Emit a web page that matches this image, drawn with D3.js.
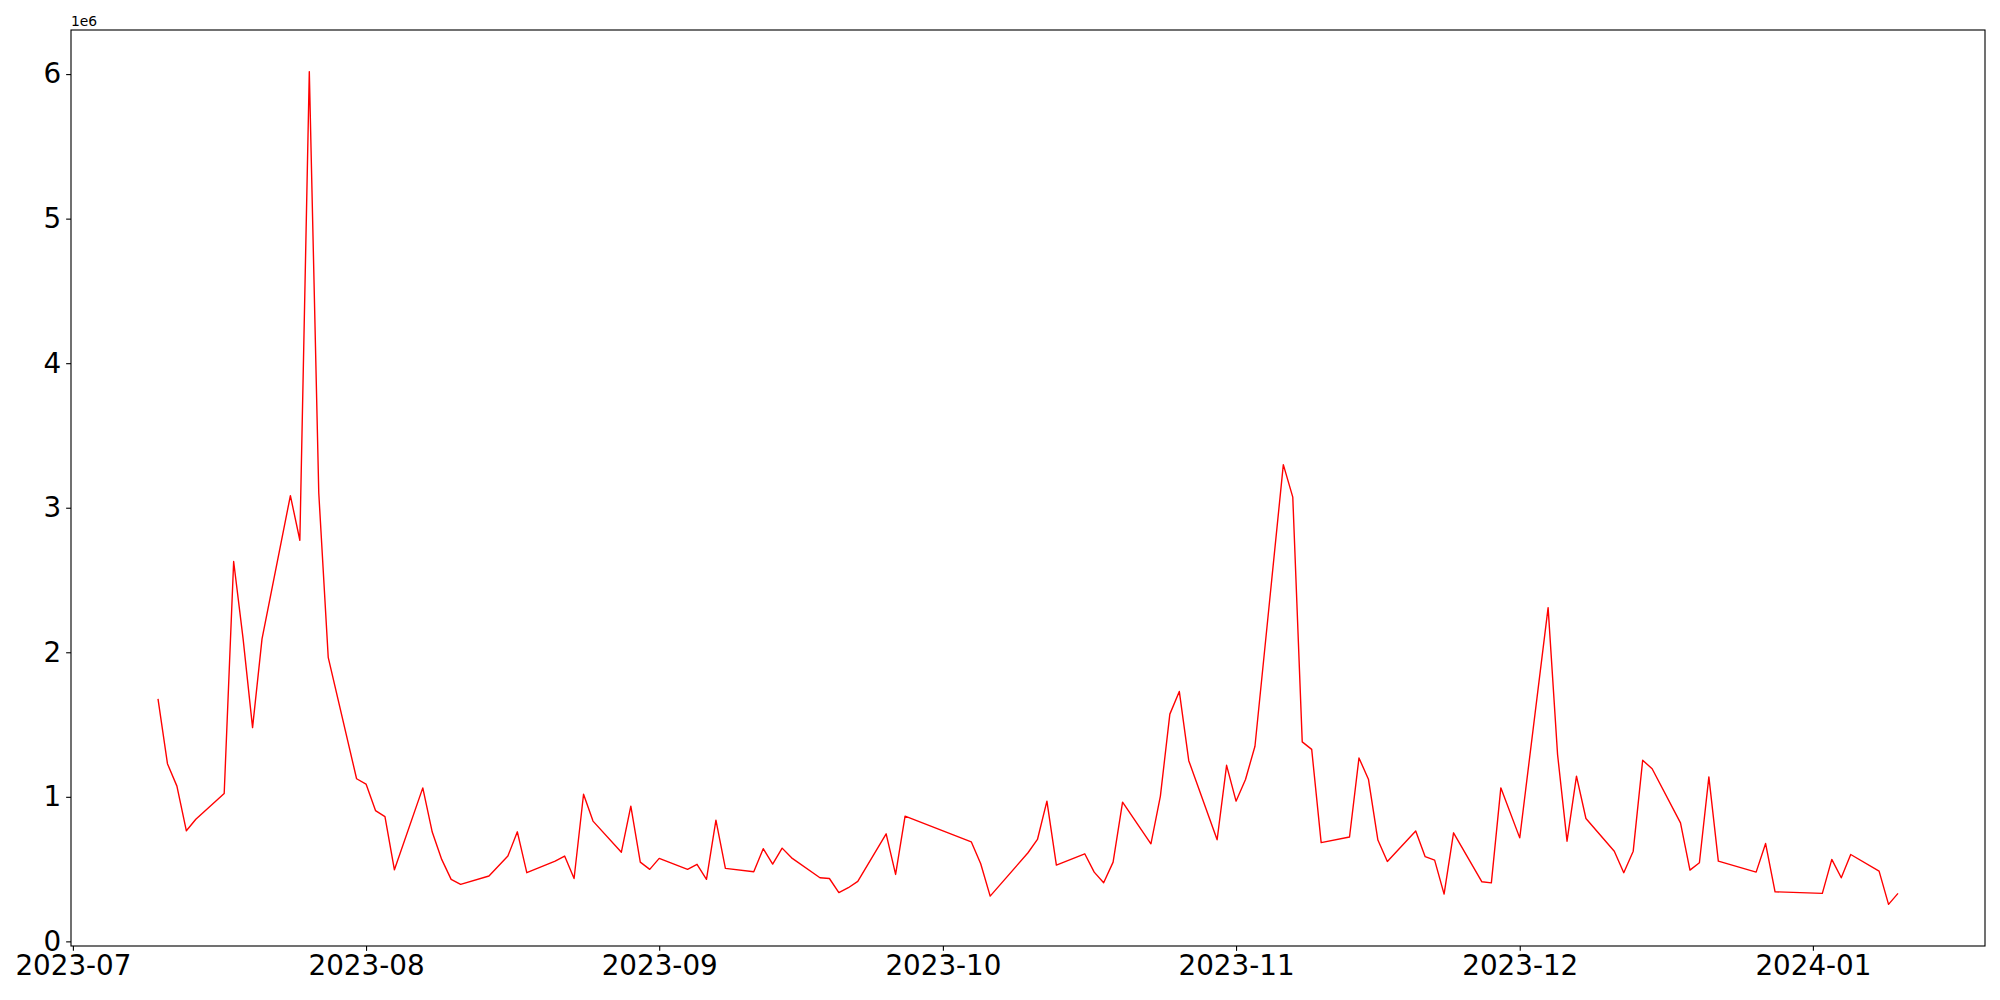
<!DOCTYPE html>
<html>
<head>
<meta charset="utf-8">
<script src="https://cdn.jsdelivr.net/npm/d3@7"></script>
<style>
  body { margin: 0; background: #fff; }
  svg { display: block; font-family: "DejaVu Sans", sans-serif; }
</style>
</head>
<body>
<svg width="2000" height="1000"></svg>
<script>
// trading days and the value for each one
var dates = [
  "2023-07-10","2023-07-11","2023-07-12","2023-07-13","2023-07-14",
  "2023-07-17","2023-07-18","2023-07-19","2023-07-20","2023-07-21",
  "2023-07-24","2023-07-25","2023-07-26","2023-07-27","2023-07-28",
  "2023-07-31","2023-08-01","2023-08-02","2023-08-03","2023-08-04",
  "2023-08-07","2023-08-08","2023-08-09","2023-08-10","2023-08-11",
  "2023-08-14","2023-08-16","2023-08-17","2023-08-18",
  "2023-08-21","2023-08-22","2023-08-23","2023-08-24","2023-08-25",
  "2023-08-28","2023-08-29","2023-08-30","2023-08-31","2023-09-01",
  "2023-09-04","2023-09-05","2023-09-06","2023-09-07","2023-09-08",
  "2023-09-11","2023-09-12","2023-09-13","2023-09-14","2023-09-15",
  "2023-09-18","2023-09-19","2023-09-20","2023-09-21","2023-09-22",
  "2023-09-25","2023-09-26","2023-09-27",
  "2023-10-04","2023-10-05","2023-10-06",
  "2023-10-10","2023-10-11","2023-10-12","2023-10-13",
  "2023-10-16","2023-10-17","2023-10-18","2023-10-19","2023-10-20",
  "2023-10-23","2023-10-24","2023-10-25","2023-10-26","2023-10-27",
  "2023-10-30","2023-10-31","2023-11-01","2023-11-02","2023-11-03",
  "2023-11-06","2023-11-07","2023-11-08","2023-11-09","2023-11-10",
  "2023-11-13","2023-11-14","2023-11-15","2023-11-16","2023-11-17",
  "2023-11-20","2023-11-21","2023-11-22","2023-11-23","2023-11-24",
  "2023-11-27","2023-11-28","2023-11-29","2023-12-01",
  "2023-12-04","2023-12-05","2023-12-06","2023-12-07","2023-12-08",
  "2023-12-11","2023-12-12","2023-12-13","2023-12-14","2023-12-15",
  "2023-12-18","2023-12-19","2023-12-20","2023-12-21","2023-12-22",
  "2023-12-26","2023-12-27","2023-12-28",
  "2024-01-02","2024-01-03","2024-01-04","2024-01-05",
  "2024-01-08","2024-01-09","2024-01-10"
];

var values = [
  1677000,1229000,1074000,765000,845000,
  1023000,2628000,2093000,1479000,2093000,
  3084000,2775000,6017000,3104000,1965000,
  1125000,1088000,905000,863000,495000,
  1062000,756000,567000,429000,394000,
  452000,590000,758000,475000,
  555000,590000,435000,1018000,832000,
  617000,935000,548000,498000,574000,
  498000,533000,429000,839000,505000,
  482000,641000,535000,645000,578000,
  440000,435000,337000,371000,415000,
  744000,463000,866000,
  689000,537000,313000,
  613000,705000,970000,528000,
  606000,479000,406000,548000,963000,
  675000,1005000,1572000,1729000,1250000,
  703000,1218000,970000,1120000,1350000,
  3298000,3073000,1380000,1328000,683000,
  722000,1269000,1122000,701000,553000,
  763000,586000,562000,327000,751000,
  412000,405000,1062000,716000,
  2309000,1293000,693000,1143000,850000,
  624000,475000,624000,1253000,1194000,
  820000,493000,544000,1138000,555000,
  479000,677000,343000,
  332000,567000,440000,601000,
  486000,256000,332000
];

var yTicks = [0, 1e6, 2e6, 3e6, 4e6, 5e6, 6e6];

var margin = {left: 71, right: 15, top: 30, bottom: 54};
var width = 2000, height = 1000;
var pt = 100 / 72;

var svg = d3.select("svg");

var parse = d3.timeParse("%Y-%m-%d");
var data = dates.map(function(d, i) { return {date: parse(d), value: values[i]}; });

// matplotlib style 5% padding on both axes
var xExt = d3.extent(data, function(d) { return d.date; });
var xPad = (xExt[1] - xExt[0]) * 0.05;
var x = d3.scaleTime()
    .domain([new Date(+xExt[0] - xPad), new Date(+xExt[1] + xPad)])
    .range([margin.left, width - margin.right]);

var yExt = d3.extent(values);
var yPad = (yExt[1] - yExt[0]) * 0.05;
var y = d3.scaleLinear()
    .domain([yExt[0] - yPad, yExt[1] + yPad])
    .range([height - margin.bottom, margin.top]);

var line = d3.line()
    .x(function(d) { return x(d.date); })
    .y(function(d) { return y(d.value); });

svg.append("path")
    .datum(data)
    .attr("fill", "none")
    .attr("stroke", "#ff0000")
    .attr("stroke-width", 1 * pt)
    .attr("stroke-linejoin", "round")
    .attr("d", line);

var xAxis = svg.append("g")
    .attr("transform", "translate(0," + (height - margin.bottom) + ")")
    .call(d3.axisBottom(x)
      .ticks(d3.timeMonth.every(1))
      .tickFormat(d3.timeFormat("%Y-%m"))
      .tickSize(3.5 * pt)
      .tickPadding(3.5 * pt));

var yAxis = svg.append("g")
    .attr("transform", "translate(" + margin.left + ",0)")
    .call(d3.axisLeft(y)
      .tickValues(yTicks)
      .tickFormat(function(d) { return d / 1e6; })
      .tickSize(3.5 * pt)
      .tickPadding(3.5 * pt));

[xAxis, yAxis].forEach(function(g) {
  g.select(".domain").remove();
  g.selectAll(".tick line").attr("stroke", "#000").attr("stroke-width", 0.8 * pt);
  g.selectAll(".tick text")
    .attr("fill", "#000")
    .style("font-family", "DejaVu Sans")
    .style("font-size", (20 * pt) + "px");
});

// frame
svg.append("rect")
    .attr("x", margin.left)
    .attr("y", margin.top)
    .attr("width", width - margin.left - margin.right)
    .attr("height", height - margin.top - margin.bottom)
    .attr("fill", "none")
    .attr("stroke", "#000")
    .attr("stroke-width", 0.8 * pt);

// offset text
svg.append("text")
    .attr("x", margin.left)
    .attr("y", margin.top - 4)
    .style("font-family", "DejaVu Sans")
    .style("font-size", (10 * pt) + "px")
    .text("1e6");
</script>
</body>
</html>
